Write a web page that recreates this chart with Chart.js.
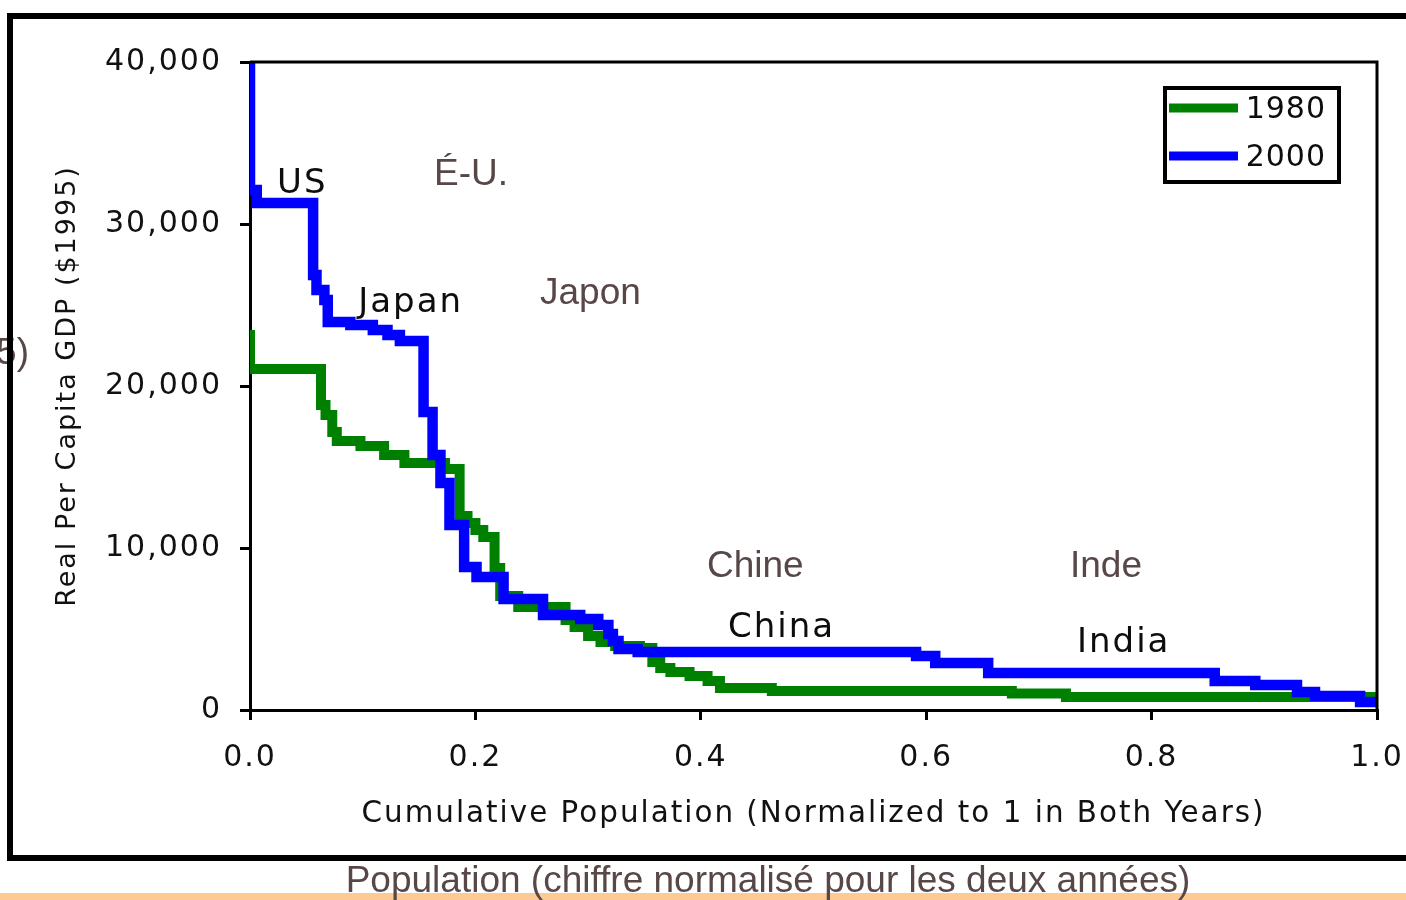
<!DOCTYPE html>
<html>
<head>
<meta charset="utf-8">
<script src="https://cdn.jsdelivr.net/npm/chart.js@4.4.1/dist/chart.umd.min.js"></script>
<style>
  html, body { margin: 0; padding: 0; background: #ffffff; overflow: hidden; }
  #wrap { position: absolute; left: 0; top: 0; width: 1406px; height: 900px; }
</style>
</head>
<body>
<div id="wrap"><canvas id="c"></canvas></div>
<script>
// ---- data ----
// cumulative population share where each income level starts (step series)
const pop1980 = [0.000, 0.000, 0.063, 0.067, 0.073, 0.077, 0.098, 0.119, 0.137, 0.173,
                 0.186, 0.193, 0.200, 0.207, 0.217, 0.222, 0.238, 0.280, 0.288, 0.300,
                 0.311, 0.324, 0.346, 0.357, 0.364, 0.373, 0.390, 0.406, 0.417, 0.463,
                 0.676, 0.724, 1.000];
const gdp1980 = [23460, 21050, 18830, 18210, 17160, 16600, 16300, 15740, 15250, 14880,
                 11980, 11540, 11110, 10680, 8770, 7040, 6360, 5560, 5120, 4570,
                 4200, 3950, 3830, 2960, 2590, 2350, 2100, 1790, 1360, 1170,
                 1020, 800, 800];
const pop2000 = [0.000, 0.000, 0.006, 0.056, 0.059, 0.066, 0.069, 0.089, 0.109, 0.122,
                 0.133, 0.154, 0.162, 0.169, 0.177, 0.190, 0.201, 0.225, 0.260, 0.293,
                 0.309, 0.318, 0.322, 0.327, 0.344, 0.591, 0.608, 0.655, 0.856, 0.892,
                 0.929, 0.945, 0.985, 1.000];
const gdp2000 = [40000, 32100, 31300, 26850, 25930, 25310, 23950, 23770, 23460, 23150,
                 22780, 18400, 15740, 14010, 11420, 8830, 8210, 6850, 5860, 5620,
                 5250, 4690, 4260, 3770, 3580, 3330, 2900, 2280, 1790, 1540,
                 1110, 860, 490, 490];
const seriesNames = ['1980', '2000'];
const seriesColors = ['#008000', '#0000FF'];
const xTicks = [0, 0.2, 0.4, 0.6, 0.8, 1.0];
const yTicks = [0, 10000, 20000, 30000, 40000];

// country labels (English, black) and French labels (brown), in data units
const labelsEN = [
  { text: 'US',    x: 0.0240, y: 31900 },
  { text: 'Japan', x: 0.0960, y: 24560 },
  { text: 'China', x: 0.4241, y: 4500 },
  { text: 'India', x: 0.7338, y: 3550 }
];
const labelsFR = [
  { text: 'É-U.',  x: 0.1633, y: 32400 },
  { text: 'Japon', x: 0.2573, y: 25060 },
  { text: 'Chine', x: 0.4055, y: 8210 },
  { text: 'Inde',  x: 0.7276, y: 8210 }
];

const toPts = (xs, ys) => xs.map((x, i) => ({ x: x, y: ys[i] }));

Chart.defaults.font.family = "'DejaVu Sans', sans-serif";
Chart.defaults.color = '#111111';

const decor = {
  id: 'decor',
  beforeLayout(chart) { chart.ctx.letterSpacing = '2px'; },
  beforeDraw(chart) {
    const ctx = chart.ctx;
    ctx.save();
    ctx.fillStyle = '#ffffff';
    ctx.fillRect(0, 0, chart.width, chart.height);
    ctx.restore();
    ctx.letterSpacing = '2px';
  },
  afterDraw(chart) {
    const ctx = chart.ctx;
    const a = chart.chartArea;
    const xs = chart.scales.x, ys = chart.scales.y;
    ctx.save();
    // top and right edges of plot box
    ctx.strokeStyle = '#000';
    ctx.lineWidth = 3;
    ctx.beginPath();
    ctx.moveTo(a.left, a.top);
    ctx.lineTo(a.right, a.top);
    ctx.lineTo(a.right, a.bottom);
    ctx.stroke();

    // English labels
    ctx.letterSpacing = '2px';
    ctx.font = "34px 'DejaVu Sans'";
    ctx.fillStyle = '#0d0d0d';
    ctx.textBaseline = 'alphabetic';
    ctx.textAlign = 'left';
    labelsEN.forEach(l => ctx.fillText(l.text, xs.getPixelForValue(l.x), ys.getPixelForValue(l.y)));

    // French labels
    ctx.letterSpacing = '0px';
    ctx.font = "37px 'Liberation Sans'";
    ctx.fillStyle = '#584747';
    labelsFR.forEach(l => ctx.fillText(l.text, xs.getPixelForValue(l.x), ys.getPixelForValue(l.y)));

    // legend
    ctx.fillStyle = '#fff';
    ctx.fillRect(1165, 88, 174, 94);
    ctx.strokeStyle = '#000';
    ctx.lineWidth = 4;
    ctx.strokeRect(1165, 88, 174, 94);
    const rows = [108, 156];
    rows.forEach((yy, i) => {
      ctx.strokeStyle = seriesColors[i];
      ctx.lineWidth = 9;
      ctx.beginPath();
      ctx.moveTo(1169, yy);
      ctx.lineTo(1238, yy);
      ctx.stroke();
      ctx.font = "30px 'DejaVu Sans'";
      ctx.letterSpacing = '1px';
      ctx.fillStyle = '#0d0d0d';
      ctx.textAlign = 'right';
      ctx.textBaseline = 'middle';
      ctx.fillText(seriesNames[i], 1326, yy + 2);
    });

    // partial French text at far left
    ctx.letterSpacing = '0px';
    ctx.font = "37px 'Liberation Sans'";
    ctx.fillStyle = '#584747';
    ctx.textAlign = 'right';
    ctx.textBaseline = 'alphabetic';
    ctx.fillText('5)', 29, 364);

    // outer frame
    ctx.strokeStyle = '#000';
    ctx.lineWidth = 6;
    ctx.strokeRect(10, 16, 1430, 842);

    // orange strip + French axis title
    ctx.fillStyle = '#FDCA93';
    ctx.fillRect(0, 893, chart.width, 7);
    ctx.fillStyle = '#584747';
    ctx.textAlign = 'center';
    ctx.fillText('Population (chiffre normalisé pour les deux années)', 768, 892);
    ctx.restore();
  }
};

new Chart(document.getElementById('c'), {
  type: 'line',
  data: {
    datasets: [
      { label: seriesNames[0], data: toPts(pop1980, gdp1980), borderColor: seriesColors[0],
        backgroundColor: seriesColors[0], borderWidth: 10, stepped: 'before', pointRadius: 0,
        fill: false, order: 1, borderJoinStyle: 'miter', borderCapStyle: 'butt' },
      { label: seriesNames[1], data: toPts(pop2000, gdp2000), borderColor: seriesColors[1],
        backgroundColor: seriesColors[1], borderWidth: 10.5, stepped: 'before', pointRadius: 0,
        fill: false, order: 0, borderJoinStyle: 'miter', borderCapStyle: 'butt' }
    ]
  },
  options: {
    responsive: true,
    maintainAspectRatio: false,
    animation: false,
    devicePixelRatio: 1,
    layout: { padding: { left: 0, top: 62, right: 29, bottom: 0 } },
    plugins: { legend: { display: false }, tooltip: { enabled: false } },
    scales: {
      x: {
        type: 'linear', min: 0, max: 1,
        afterFit: s => { s.height = 190; s.paddingLeft = 0; s.paddingRight = 0; },
        afterBuildTicks: s => { s.ticks = xTicks.map(v => ({ value: v })); },
        ticks: { font: { size: 30 }, padding: 20, maxRotation: 0, autoSkip: false,
                 callback: v => Number(v).toFixed(1), color: '#111111' },
        grid: { drawOnChartArea: false, drawTicks: true, tickLength: 10, color: '#000', lineWidth: 3 },
        border: { display: true, color: '#000', width: 3 },
        title: { display: true, text: 'Cumulative Population (Normalized to 1 in Both Years)',
                 font: { size: 29.4 }, color: '#111111', padding: { top: 0, bottom: 68 } }
      },
      y: {
        type: 'linear', min: 0, max: 40000,
        afterFit: s => { s.width = 250; s.paddingTop = 0; s.paddingBottom = 0; },
        afterBuildTicks: s => { s.ticks = yTicks.map(v => ({ value: v })); },
        ticks: { font: { size: 30 }, padding: 18, autoSkip: false,
                 callback: v => Number(v).toLocaleString('en-US'), color: '#111111' },
        grid: { drawOnChartArea: false, drawTicks: true, tickLength: 10, color: '#000', lineWidth: 3 },
        border: { display: true, color: '#000', width: 3 },
        title: { display: true, text: 'Real Per Capita GDP ($1995)',
                 font: { size: 27 }, color: '#111111', padding: { top: 52, bottom: 0 } }
      }
    }
  },
  plugins: [decor]
});
</script>
</body>
</html>
